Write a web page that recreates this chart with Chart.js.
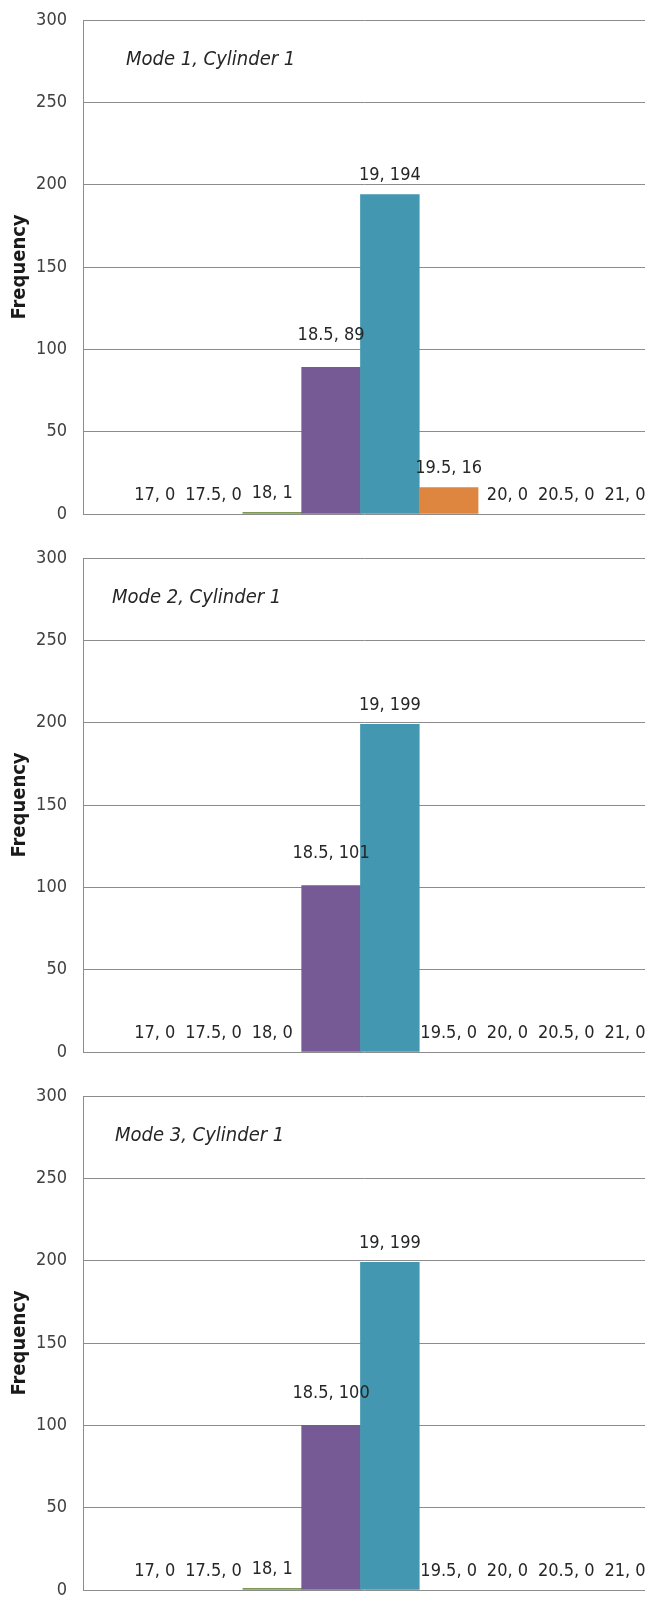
<!DOCTYPE html>
<html>
<head>
<meta charset="utf-8">
<script src="https://cdn.jsdelivr.net/npm/chart.js@4.4.1/dist/chart.umd.min.js"></script>
<style>
  body { margin: 0; background: #fff; overflow: hidden; }
  .box { width: 645px; height: 538px; }
</style>
</head>
<body>
<div class="box"><canvas id="c1" width="645" height="538"></canvas></div>
<div class="box"><canvas id="c2" width="645" height="538"></canvas></div>
<div class="box"><canvas id="c3" width="645" height="538"></canvas></div>
<script>
// 数据
const categories = [17, 17.5, 18, 18.5, 19, 19.5, 20, 20.5, 21];
const mode1 = [0, 0, 1, 89, 194, 16, 0, 0, 0];
const mode2 = [0, 0, 0, 101, 199, 0, 0, 0, 0];
const mode3 = [0, 0, 1, 100, 199, 0, 0, 0, 0];
const chartTitles = ['Mode 1, Cylinder 1', 'Mode 2, Cylinder 1', 'Mode 3, Cylinder 1'];
const yTitle = 'Frequency';

// one colour per bin, like excel "vary colors by point"
const barColors = ['#4a7ebb', '#be4b48', '#7f9a55', '#765a96', '#4397b0', '#de853f', '#2c4d75', '#772c2a', '#5f7530'];
const raisedLabels = [18.5];   // labels excel pushed up out of the way
const titleOffsets = [43, 29, 32];

const FONT = "'Liberation Sans Narrow', 'DejaVu Sans Condensed', sans-serif";

// 数据标签 "x, y"
const pointLabels = {
    id: 'pointLabels',
    afterDatasetsDraw(chart) {
        const ctx = chart.ctx;
        const meta = chart.getDatasetMeta(0);
        ctx.save();
        ctx.font = '18px ' + FONT;
        ctx.fillStyle = '#262626';
        ctx.textAlign = 'center';
        ctx.textBaseline = 'middle';
        meta.data.forEach((bar, i) => {
            const x = categories[i];
            const y = chart.data.datasets[0].data[i].y;
            const lift = raisedLabels.includes(x) ? 32 : 19;
            ctx.fillText(x + ', ' + y, bar.x, bar.y - lift);
        });
        ctx.restore();
    }
};

// 图内标题
const insideTitle = {
    id: 'insideTitle',
    afterDraw(chart, args, opts) {
        const ctx = chart.ctx;
        const area = chart.chartArea;
        ctx.save();
        ctx.font = 'italic 20px ' + FONT;
        ctx.fillStyle = '#262626';
        ctx.textAlign = 'left';
        ctx.textBaseline = 'middle';
        ctx.fillText(opts.text, area.left + opts.dx, area.top + 40);
        ctx.restore();
    }
};

function RenderChart(id, values, idx) {
    const points = categories.map((c, i) => ({ x: c, y: values[i] }));
    new Chart(document.getElementById(id), {
        type: 'bar',
        data: {
            datasets: [{
                data: points,
                // 0 bars would leave a hairline at the base
                backgroundColor: c => values[c.dataIndex] ? barColors[c.dataIndex] : 'rgba(0,0,0,0)',
                borderWidth: 0,
                barPercentage: 1,
                categoryPercentage: 1
            }]
        },
        options: {
            responsive: false,
            animation: false,
            layout: { padding: { top: 20, bottom: 24, left: 0, right: 0 } },
            plugins: {
                legend: { display: false },
                tooltip: { enabled: false },
                insideTitle: { text: chartTitles[idx], dx: titleOffsets[idx] }
            },
            scales: {
                x: {
                    type: 'linear',
                    min: 16.39,
                    max: 21.17,
                    offset: false,
                    display: false
                },
                y: {
                    min: 0,
                    max: 300,
                    afterFit: s => { s.width = 83; s.paddingTop = 0; s.paddingBottom = 0; },
                    ticks: {
                        stepSize: 50,
                        padding: 16,
                        color: '#404040',
                        font: { family: FONT, size: 18 }
                    },
                    grid: { color: '#8c8c8c', drawTicks: false, lineWidth: 1 },
                    border: { display: true, color: '#8c8c8c' },
                    title: {
                        display: true,
                        text: yTitle,
                        color: '#1a1a1a',
                        font: { family: FONT, size: 20, weight: 'bold' },
                        padding: { top: 8, bottom: 0 }
                    }
                }
            }
        },
        plugins: [pointLabels, insideTitle]
    });
}

RenderChart('c1', mode1, 0);
RenderChart('c2', mode2, 1);
RenderChart('c3', mode3, 2);
</script>
</body>
</html>
